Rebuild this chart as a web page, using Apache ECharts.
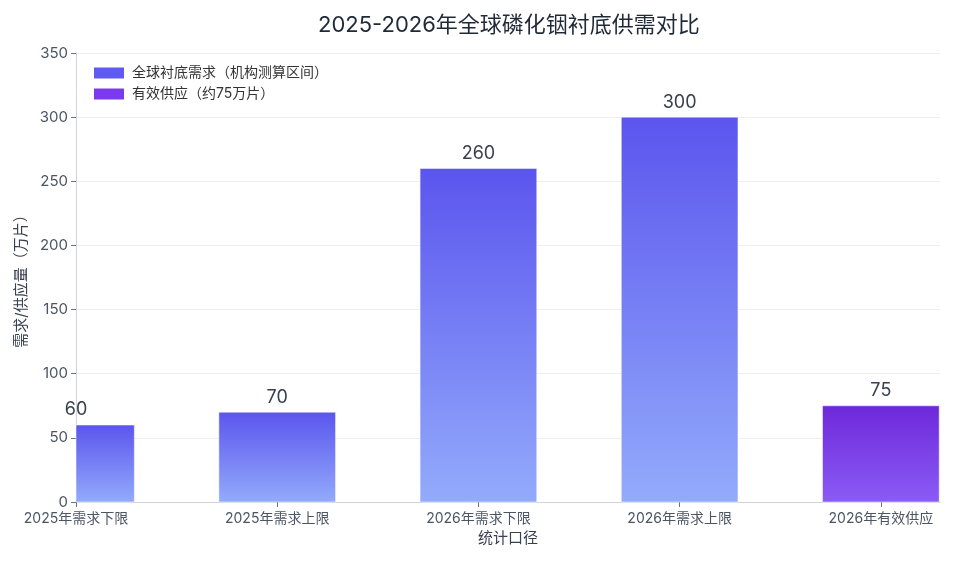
<!DOCTYPE html>
<html>
<head>
<meta charset="utf-8">
<script src="https://cdn.jsdelivr.net/npm/echarts@6/dist/echarts.min.js"></script>
<style>
    html, body { margin: 0; padding: 0; background: #fff; }
    #chart { width: 960px; height: 564px; }
</style>
</head>
<body>
<div id="chart"></div>
<script>
// 数据
const categories = ["2025年需求下限", "2025年需求上限", "2026年需求下限", "2026年需求上限", "2026年有效供应"];
const demand = [60, 70, 260, 300, null];
const supply = [null, null, null, null, 75];
const yTicks = [0, 50, 100, 150, 200, 250, 300, 350];

const FONT = "Inter, 'Noto Sans CJK SC'";

// 按类别序号放置
function toPoints(list) {
    return list.map((v, i) => (v == null ? null : [i, v])).filter(p => p);
}
const catIndex = categories.map((c, i) => i);

// 柱子：矩形按坐标系裁剪，数值标签不裁剪
function barRenderer(top, bottom) {
    return function (params, api) {
        let x = api.value(0), v = api.value(1);
        let p1 = api.coord([x, v]);
        let p0 = api.coord([x, 0]);
        let w = api.size([1, 0])[0] * 0.58;
        let rect = echarts.graphic.clipRectByRect({
            x: p1[0] - w / 2, y: p1[1], width: w, height: p0[1] - p1[1]
        }, params.coordSys);
        return {
            type: "group",
            children: [
                {
                    type: "rect",
                    shape: rect,
                    style: {
                        fill: new echarts.graphic.LinearGradient(0, 0, 0, 1, [
                            { offset: 0, color: top },
                            { offset: 1, color: bottom }
                        ]),
                        stroke: "rgba(255,255,255,0.5)",
                        lineWidth: 1
                    }
                },
                {
                    type: "text",
                    style: {
                        text: String(v),
                        x: p1[0], y: p1[1] - 6,
                        align: "center", verticalAlign: "bottom",
                        fontSize: 18, fill: "#374151", fontFamily: FONT
                    }
                }
            ]
        };
    };
}

let chart = echarts.init(document.getElementById("chart"));
chart.setOption({
    backgroundColor: "#fff",
    textStyle: { fontFamily: FONT },
    title: {
        text: "2025-2026年全球磷化铟衬底供需对比",
        left: 313,
        top: 9,
        textStyle: { fontSize: 22, fontWeight: "normal", color: "#1f2937", fontFamily: FONT }
    },
    legend: {
        orient: "vertical",
        left: 89,
        top: 61,
        icon: "rect",
        itemWidth: 30,
        itemHeight: 11,
        itemGap: 7,
        textStyle: { fontSize: 14, color: "#333", fontFamily: FONT, padding: [0, 0, 0, 3] },
        data: [
            { name: "全球衬底需求（机构测算区间）", itemStyle: { color: "#5f5af0" } },
            { name: "有效供应（约75万片）", itemStyle: { color: "#7c3aed" } }
        ]
    },
    grid: { left: 76, right: 20, top: 53, bottom: 62, outerBoundsMode: "none" },
    xAxis: {
        type: "value",
        min: 0,
        max: 4.294,
        interval: 1,
        name: "统计口径",
        nameLocation: "middle",
        nameGap: 28,
        nameTextStyle: { fontSize: 15, color: "#374151" },
        axisLine: { show: true, lineStyle: { color: "#d1d5db" } },
        axisTick: { show: true, customValues: catIndex, lineStyle: { color: "#6b7280" } },
        axisLabel: {
            fontSize: 14, color: "#4b5563", margin: 10,
            customValues: catIndex,
            formatter: v => categories[Math.round(v)] || ""
        },
        splitLine: { show: false }
    },
    yAxis: {
        type: "value",
        min: yTicks[0],
        max: yTicks[yTicks.length - 1],
        interval: yTicks[1] - yTicks[0],
        name: "需求/供应量（万片）",
        nameLocation: "middle",
        nameGap: 46,
        nameTextStyle: { fontSize: 15, color: "#374151" },
        axisLine: { show: true, lineStyle: { color: "#d1d5db" } },
        axisTick: { show: true, lineStyle: { color: "#6b7280" } },
        axisLabel: { fontSize: 15, color: "#4b5563" },
        splitLine: { lineStyle: { color: "#eceef1" } }
    },
    series: [
        {
            name: "全球衬底需求（机构测算区间）",
            type: "custom",
            clip: false,
            encode: { x: 0, y: 1 },
            data: toPoints(demand),
            renderItem: barRenderer("#5b55ee", "#93abfb")
        },
        {
            name: "有效供应（约75万片）",
            type: "custom",
            clip: false,
            encode: { x: 0, y: 1 },
            data: toPoints(supply),
            renderItem: barRenderer("#6d28d9", "#8b5cf6")
        }
    ]
});
</script>
</body>
</html>
